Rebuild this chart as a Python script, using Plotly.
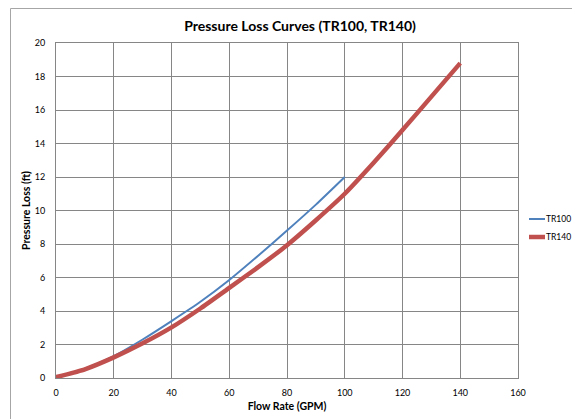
import plotly.graph_objects as go

flow_tr100 = [0, 10, 20, 30, 40, 50, 60, 70, 80, 90, 100]
loss_tr100 = [0, 0.55, 1.31, 2.3, 3.4, 4.55, 5.85, 7.3, 8.8, 10.35, 12.0]

flow_tr140 = [0, 10, 20, 30, 40, 50, 60, 70, 80, 90, 100, 110, 120, 130, 140]
loss_tr140 = [0.05, 0.52, 1.23, 2.07, 3.02, 4.15, 5.38, 6.62, 7.93, 9.42, 11.0, 12.85, 14.8, 16.8, 18.8]

series_names = ["TR100", "TR140"]
series_colors = ["#4F81BD", "#C0504D"]
series_widths = [2, 4.5]

x_ticks = [0, 20, 40, 60, 80, 100, 120, 140, 160]
y_ticks = [0, 2, 4, 6, 8, 10, 12, 14, 16, 18, 20]

FONT = "Lato"
GRID = "#868686"

# page has an 8px body margin; figure coords = page coords - 8
W, H = 572, 411
L, T = 48, 35
PW, PH = 462, 335

fig = go.Figure()
for xs, ys, nm, col, lw in zip([flow_tr100, flow_tr140], [loss_tr100, loss_tr140],
                               series_names, series_colors, series_widths):
    fig.add_trace(go.Scatter(x=xs, y=ys, mode="lines", name=nm, showlegend=False,
                             line=dict(color=col, width=lw, shape="spline", smoothing=0.5)))

# legend drawn in paper space, squeezed against the right edge as in the reference
shapes = [dict(type="rect", xref="paper", yref="paper",
               x0=(2.5 - L) / PW, x1=1.3, y0=-0.3, y1=(370 - 0.5) / PH,
               line=dict(color="#A6A6A6", width=1), fillcolor="rgba(0,0,0,0)", layer="below")]
annotations = []
legend_rows = [211, 229]
for nm, col, lw, yrow in zip(series_names, series_colors, series_widths, legend_rows):
    yp = (T + PH - yrow) / PH
    shapes.append(dict(type="line", xref="paper", yref="paper",
                       x0=(521 - L) / PW, x1=(537 - L) / PW, y0=yp, y1=yp,
                       line=dict(color=col, width=lw)))
    annotations.append(dict(text=nm, xref="paper", yref="paper", x=(536 - L) / PW, y=yp,
                            xanchor="left", yanchor="middle", showarrow=False,
                            font=dict(family=FONT, size=8.5, color="#000000")))

fig.update_layout(
    width=W, height=H,
    margin=dict(l=L, r=W - L - PW, t=T, b=H - T - PH, autoexpand=False),
    paper_bgcolor="white", plot_bgcolor="white",
    font=dict(family=FONT, size=9, color="#000000"),
    title=dict(text="<b>Pressure Loss Curves (TR100, TR140)</b>", x=292 / W, xanchor="center",
               y=1 - 18 / H, yanchor="middle", font=dict(family=FONT, size=14, color="#000000")),
    showlegend=False,
    shapes=shapes,
    annotations=annotations,
)

fig.update_xaxes(range=[0, 160], tickvals=x_ticks, ticktext=[str(v) for v in x_ticks],
                 showgrid=True, gridcolor=GRID, gridwidth=1,
                 showline=True, linecolor=GRID, linewidth=1, mirror=True,
                 ticks="", ticklabelstandoff=6, zeroline=False,
                 title=dict(text="<b>Flow Rate (GPM)</b>", standoff=5,
                            font=dict(family=FONT, size=10.5, color="#000000")))
fig.update_yaxes(range=[0, 20], tickvals=y_ticks, ticktext=[str(v) for v in y_ticks],
                 showgrid=True, gridcolor=GRID, gridwidth=1,
                 showline=True, linecolor=GRID, linewidth=1, mirror=True,
                 ticks="", ticklabelstandoff=8, zeroline=False,
                 title=dict(text="<b>Pressure Loss (ft)</b>", standoff=2,
                            font=dict(family=FONT, size=10.5, color="#000000")))

fig.write_html("out.html")
